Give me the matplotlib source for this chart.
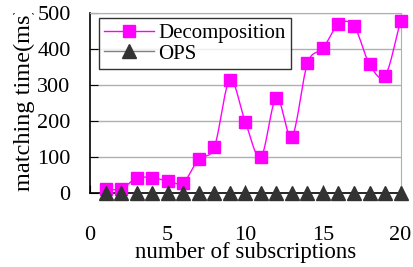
import numpy as np
import matplotlib.pyplot as plt
from matplotlib.transforms import Bbox, TransformedBbox

plt.rcParams['font.family'] = ['Liberation Serif', 'DejaVu Serif']

subs = [1, 2, 3, 4, 5, 6, 7, 8, 9, 10, 11, 12, 13, 14, 15, 16, 17, 18, 19, 20]
decomp = [11, 11, 42, 42, 34, 29, 95, 127, 314, 197, 100, 265, 157, 360, 402, 469, 464, 358, 326, 478]
ops = [0] * 20


def smooth(x, y, n=20):
    # catmull-rom, only for drawing the line between points
    x = np.asarray(x, float)
    y = np.asarray(y, float)
    px = np.concatenate([[2 * x[0] - x[1]], x, [2 * x[-1] - x[-2]]])
    py = np.concatenate([[2 * y[0] - y[1]], y, [2 * y[-1] - y[-2]]])
    xs, ys = [], []
    t = np.linspace(0, 1, n)
    for i in range(1, len(px) - 2):
        for p, out in ((px, xs), (py, ys)):
            p0, p1, p2, p3 = p[i - 1], p[i], p[i + 1], p[i + 2]
            out.extend(0.5 * ((2 * p1) + (-p0 + p2) * t
                              + (2 * p0 - 5 * p1 + 4 * p2 - p3) * t ** 2
                              + (-p0 + 3 * p1 - 3 * p2 + p3) * t ** 3))
    return xs, ys


fig = plt.figure(figsize=(4.13, 2.67), dpi=100)
ax = fig.add_axes([0.218, 0.277, 0.752, 0.674])

for v in [100, 200, 300, 400, 500]:
    ax.axhline(v, color='#b0b0b0', lw=1, zorder=0)

sx, sy = smooth(subs, decomp)
ax.plot(sx, sy, color='#ff00ff', lw=1, zorder=2)
ax.plot(subs, decomp, 's', color='#ff00ff', ms=9, zorder=3, clip_on=False)
ax.plot(subs, ops, '^', color='#333333', ms=10, zorder=4, clip_on=False)

# legend handles
ax.plot([], [], color='#ff00ff', lw=1, marker='s', ms=9, label='Decomposition')
ax.plot([], [], color='#808080', lw=1, marker='^', ms=10, mfc='#333333', mec='#333333', label='OPS')
handles, labels = ax.get_legend_handles_labels()
leg = ax.legend(handles[-2:], labels[-2:], loc='upper left', bbox_to_anchor=(0.029, 0.972),
                fontsize=15, frameon=True, fancybox=False, edgecolor='black',
                handlelength=2.4, borderpad=0.25, labelspacing=0.05, handletextpad=0.2,
                borderaxespad=0)
leg.get_frame().set_linewidth(1)

ax.set_xlim(0, 20)
ax.set_ylim(0, 500)
ax.set_xticks([0, 5, 10, 15, 20])
ax.set_yticks([0, 100, 200, 300, 400, 500])
ax.tick_params(direction='in', labelsize=16, length=6, color='black')
ax.tick_params(axis='x', pad=24)
ax.tick_params(axis='y', pad=14)
for s in ['top', 'right']:
    ax.spines[s].set_color('#b0b0b0')
for s in ['left', 'bottom']:
    ax.spines[s].set_color('black')
    ax.spines[s].set_linewidth(1.2)

fig.text(246 / 413, (267 - 258) / 267, 'number of subscriptions', ha='center', va='baseline', fontsize=16.5)
yl = fig.text(0.058, (267 - 191) / 267, 'matching time(ms)', rotation=90, ha='center', va='bottom', fontsize=17.5)
yl.set_clip_box(TransformedBbox(Bbox([[0, 0], [0.2, (267 - 13) / 267]]), fig.transFigure))
yl.set_clip_on(True)

fig.savefig('out.png', dpi=100)
